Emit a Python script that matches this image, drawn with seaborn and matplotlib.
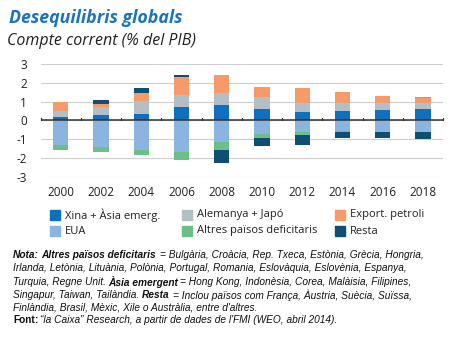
import matplotlib
matplotlib.use("Agg")
import matplotlib.pyplot as plt
import matplotlib.font_manager as fm
import seaborn as sns
import pandas as pd
import numpy as np

years = ["2000", "2002", "2004", "2006", "2008", "2010", "2012", "2014", "2016", "2018"]
xina = [0.21, 0.28, 0.37, 0.70, 0.82, 0.64, 0.46, 0.50, 0.54, 0.59]
eua = [-1.30, -1.42, -1.55, -1.67, -1.17, -0.73, -0.64, -0.54, -0.64, -0.64]
alemanya = [0.29, 0.44, 0.67, 0.67, 0.64, 0.64, 0.45, 0.45, 0.41, 0.36]
export = [0.48, 0.18, 0.43, 0.96, 0.96, 0.50, 0.84, 0.55, 0.36, 0.23]
altres = [-0.27, -0.25, -0.28, -0.46, -0.43, -0.23, -0.14, -0.07, 0.00, 0.09]
resta = [0.03, 0.21, 0.25, 0.11, -0.66, -0.39, -0.54, -0.30, -0.32, -0.36]

colors = {"Xina + Àsia emerg.": "#1170bd", "EUA": "#8cb4e0", "Alemanya + Japó": "#b3bfc3",
          "Altres països deficitaris": "#6dbf88", "Export. petroli": "#f59a68", "Resta": "#0e4f73"}
series = {"Xina + Àsia emerg.": xina, "EUA": eua, "Alemanya + Japó": alemanya,
          "Altres països deficitaris": altres, "Export. petroli": export, "Resta": resta}

names = [f.name for f in fm.fontManager.ttflist]
narrow = "Liberation Sans Narrow" if "Liberation Sans Narrow" in names else "Liberation Sans"

sns.set_theme(style="white")
plt.rcParams["font.family"] = ["Open Sans", "DejaVu Sans"]

fig = plt.figure(figsize=(4.7, 3.38), dpi=100)
ax = fig.add_axes([40.7 / 470, 1 - 176.7 / 338, (443 - 40.7) / 470, (176.7 - 64.3) / 338])

pos_base = np.zeros(len(years))
neg_base = np.zeros(len(years))
for name in ["Xina + Àsia emerg.", "EUA", "Alemanya + Japó", "Export. petroli",
             "Altres països deficitaris", "Resta"]:
    vals = np.array(series[name], dtype=float)
    bottoms = np.where(vals >= 0, pos_base, neg_base)
    df = pd.DataFrame({"year": years, "val": vals})
    sns.barplot(data=df, x="year", y="val", bottom=bottoms, color=colors[name],
                saturation=1, width=0.38, errorbar=None, linewidth=0, ax=ax)
    pos_base = pos_base + np.where(vals >= 0, vals, 0)
    neg_base = neg_base + np.where(vals < 0, vals, 0)

ax.set_ylim(-3, 3)
ax.set_xlim(-0.5, len(years) - 0.5)
ax.set_yticks(range(-3, 4))
ax.set_yticklabels([str(v) for v in range(-3, 4)], fontsize=8.5, color="#222222")
ax.set_xlabel("")
ax.set_ylabel("")
ax.tick_params(axis="x", length=0, labelsize=8.5, colors="#222222", pad=7)
ax.tick_params(axis="y", length=0, pad=10)
for s in ax.spines.values():
    s.set_visible(False)
ax.grid(axis="y", color="#cfcfcf", linewidth=0.8)
ax.set_axisbelow(True)
ax.axhline(0, color="#333333", linewidth=1.1, zorder=5)
for b in np.arange(-0.5, len(years), 1.0):
    ax.plot([b, b], [0, 0.12], color="#333333", linewidth=0.9, zorder=5, clip_on=False)

# titles
fig.text(9 / 470, 1 - 18 / 338, "Desequilibris globals", fontsize=12.8, fontweight="bold",
         fontstyle="italic", color="#1a74bf", va="center", ha="left")
fig.text(7 / 470, 1 - 41 / 338, "Compte corrent (% del PIB)", fontsize=11.5, fontstyle="italic",
         color="#222222", va="center", ha="left")

# legend
leg_cols = [50, 182, 335]
leg_rows = [215, 231]
leg_items = [["Xina + Àsia emerg.", "Alemanya + Japó", "Export. petroli"],
             ["EUA", "Altres països deficitaris", "Resta"]]
for r, row in enumerate(leg_items):
    for c, name in enumerate(row):
        x0 = leg_cols[c]
        y0 = leg_rows[r]
        fig.patches.append(plt.Rectangle((x0 / 470, 1 - (y0 + 5) / 338), 10 / 470, 10 / 338,
                                         transform=fig.transFigure, color=colors[name]))
        fig.text((x0 + 15) / 470, 1 - y0 / 338, name, fontsize=8, va="center", ha="left",
                 color="#222222")

# notes with mixed styles
renderer = fig.canvas.get_renderer()
NOTE_SIZE = 7.3


def rich_line(y_px, segs):
    x = 13.0
    for txt, weight, style, gap in segs:
        t = fig.text(x / 470, 1 - y_px / 338, txt, fontsize=NOTE_SIZE, fontweight=weight,
                     fontstyle=style, family=[narrow, "DejaVu Sans"], va="center", ha="left",
                     color="#111111")
        w = t.get_window_extent(renderer).width
        x += w + gap


B, N = "bold", "normal"
I, U = "italic", "normal"
sp = 2.2
rich_line(255, [("Nota:", B, I, sp), ("Altres països deficitaris", B, I, sp * 2),
                ("= Bulgària, Croàcia, Rep. Txeca, Estònia, Grècia, Hongria,", N, I, 0)])
rich_line(268, [("Irlanda, Letònia, Lituània, Polònia, Portugal, Romania, Eslovàquia, Eslovènia, Espanya,", N, I, 0)])
rich_line(282, [("Turquia, Regne Unit.", N, I, sp), ("Àsia emergent", B, I, sp),
                ("= Hong Kong, Indonèsia, Corea, Malàisia, Filipines,", N, I, 0)])
rich_line(295, [("Singapur, Taiwan, Tailàndia.", N, I, sp), ("Resta", B, I, sp * 2),
                ("= Inclou països com França, Àustria, Suècia, Suïssa,", N, I, 0)])
rich_line(307, [("Finlàndia, Brasil, Mèxic, Xile o Austràlia, entre d'altres.", N, I, 0)])
rich_line(320, [("Font", B, U, 0), (":", B, U, sp), ("\u201cla Caixa\u201d Research, a partir de dades de l'FMI (WEO, abril 2014).", N, I, 0)])

fig.savefig("out.png", dpi=100)
